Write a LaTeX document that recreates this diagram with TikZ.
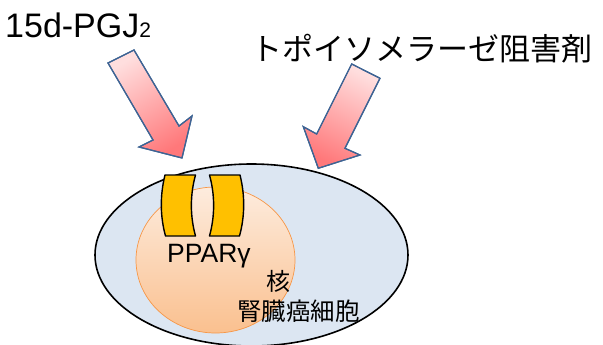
\documentclass[tikz,border=0pt]{standalone}
\usepackage{fontspec}
\setmainfont{Liberation Sans}
\newfontfamily\jpfont{Noto Sans CJK JP}
\usetikzlibrary{shapes.geometric}

\definecolor{cellfill}{RGB}{220,230,242}
\definecolor{nucTop}{RGB}{253,236,222}
\definecolor{nucBottom}{RGB}{250,192,143}
\definecolor{nucLine}{RGB}{247,150,70}
\definecolor{ligand}{RGB}{255,192,0}
\definecolor{arrowLight}{RGB}{255,222,222}
\definecolor{arrowDark}{RGB}{255,120,122}
\definecolor{arrowLine}{RGB}{62,100,148}

\tikzset{
  cellbody/.style={ellipse, draw=black, line width=1.6pt, fill=cellfill,
    minimum width=313pt, minimum height=182pt, inner sep=0pt},
  nucleus/.style={ellipse, draw=nucLine, line width=0.7pt,
    top color=nucTop, bottom color=nucBottom,
    minimum width=159pt, minimum height=146pt, inner sep=0pt},
  receptor/.style={draw=black, line width=1.4pt, fill=ligand, line join=round},
  blockarrow/.style={draw=arrowLine, line width=1.2pt, line join=miter,
    top color=arrowLight, bottom color=arrowDark},
  label/.style={inner sep=0pt, text=black},
}

\begin{document}
\begin{tikzpicture}[x=1pt, y=-1pt]
  \useasboundingbox (0,0) rectangle (603,345);

  % cell body and nucleus
  \node[cellbody] (cell) at (251.5,255) {};
  \node[nucleus] (nuc) at (215.5,260) {};

  % PPARgamma dimer
  \draw[receptor] (165,175) -- (195.5,175)
    .. controls (190,195) and (190,216) .. (195.5,236)
    -- (165.5,236)
    .. controls (160,216) and (160,195) .. (165,175) -- cycle;
  \draw[receptor] (240,175) -- (209.5,175)
    .. controls (215,195) and (215,216) .. (209.5,236)
    -- (239.5,236)
    .. controls (245,216) and (245,195) .. (240,175) -- cycle;

  % block arrows pointing into the cell
  \shade[blockarrow, shading angle=31]
    (108,63) -- (134,50) -- (179,126) -- (192,116) -- (182,158)
    -- (139,147) -- (153,140) -- cycle;
  \shade[blockarrow, shading angle=-26]
    (351.7,64) -- (380,78.3) -- (345,148.3) -- (360,155) -- (318.3,168.3)
    -- (303.3,126.7) -- (316.7,134) -- cycle;
  \draw[arrowLine, line width=1.2pt, line join=miter]
    (108,63) -- (134,50) -- (179,126) -- (192,116) -- (182,158)
    -- (139,147) -- (153,140) -- cycle;
  \draw[arrowLine, line width=1.2pt, line join=miter]
    (351.7,64) -- (380,78.3) -- (345,148.3) -- (360,155) -- (318.3,168.3)
    -- (303.3,126.7) -- (316.7,134) -- cycle;

  % labels
  \node[label, anchor=base west] (pgj) at (5,38)
    {\fontsize{34}{34}\selectfont 15d-PGJ{\fontsize{21}{21}\selectfont 2}};
  \node[label, anchor=base west] (topo) at (251,61)
    {\jpfont\fontsize{31}{31}\selectfont トポイソメラーゼ阻害剤};
  \node[label, anchor=base west] (ppar) at (167,262)
    {\fontsize{26.5}{26.5}\selectfont PPARγ};
  \node[label, anchor=base] (kaku) at (278,290.5)
    {\jpfont\fontsize{24}{24}\selectfont 核};
  \node[label, anchor=base] (rcc) at (298.5,320)
    {\jpfont\fontsize{24.5}{24.5}\selectfont 腎臓癌細胞};
\end{tikzpicture}
\end{document}
